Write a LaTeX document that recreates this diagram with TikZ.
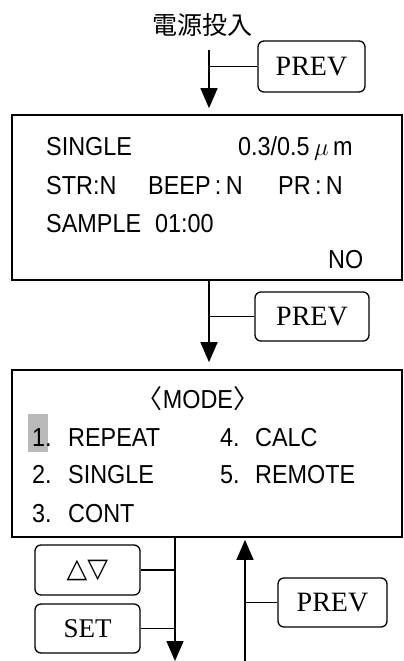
\documentclass[tikz,border=0pt]{standalone}
\usepackage{fontspec}
\usetikzlibrary{arrows.meta}
\newfontfamily\dispfont[FakeStretch=0.9]{Liberation Sans}
\newfontfamily\keyfont{Liberation Serif}
\newfontfamily\cjk{Noto Sans CJK JP}
\newfontfamily\symfont{DejaVu Sans}
\begin{document}
\begin{tikzpicture}[x=1pt,y=-1pt,
  key/.style={draw, line width=1.3pt, rounded corners=6pt, inner sep=0pt,
    font=\keyfont\fontsize{28}{28}\selectfont},
  screen/.style={draw, line width=1.7pt, inner sep=0pt},
  disp/.style={font=\dispfont\fontsize{26}{26}\selectfont, anchor=base west, inner sep=0pt},
  conn/.style={line width=1.5pt},
  arr/.style={conn, -{Triangle[length=20pt,width=17pt]}}]
\useasboundingbox (0,0) rectangle (404,661);
\fill[white] (0,0) rectangle (404,661);

% power on label
\node[font=\cjk\fontsize{25}{25}\selectfont, inner sep=0pt] (pwr) at (202,25) {電源投入};

% screens
\node[screen, minimum width=390pt, minimum height=165pt] (scr1) at (207,197.5) {};
\node[screen, minimum width=390pt, minimum height=167pt] (scr2) at (207,453.5) {};

% keys
\node[key, minimum width=107pt, minimum height=51pt] (prev1) at (311.5,66.5) {PREV};
\node[key, minimum width=114pt, minimum height=49pt] (prev2) at (312,316.5) {PREV};
\node[key, minimum width=105pt, minimum height=50pt, font=\symfont\fontsize{27}{27}\selectfont] (updn) at (87.5,570) {△▽};
\node[key, minimum width=105pt, minimum height=49pt, font=\keyfont\fontsize{27}{27}\selectfont] (setk) at (87.5,628.5) {SET};
\node[key, minimum width=109pt, minimum height=49pt] (prev3) at (332.5,602.5) {PREV};

% screen 1 text
\node[disp] (s1a) at (46,155) {SINGLE};
\node[disp] (s1b) at (238,155) {0.3/0.5\,$\mu$\,m};
\node[disp] (s1c) at (46,194) {STR:N};
\node[disp] (s1d) at (148,194) {BEEP\,:\,N};
\node[disp] (s1e) at (278,194) {PR\,:\,N};
\node[disp] (s1f) at (46,232) {SAMPLE};
\node[disp] (s1g) at (155,232) {01:00};
\node[disp] (s1h) at (328,268) {NO};

% screen 2 text
\fill[gray!55] (28,414) rectangle (48,452);
\node[disp, anchor=base] (s2t) at (198,408) {{\cjk 〈}MODE{\cjk 〉}};
\node[disp] (n1) at (32,446) {1.};
\node[disp] (m1) at (68,446) {REPEAT};
\node[disp] (n4) at (220,446) {4.};
\node[disp] (m4) at (255,446) {CALC};
\node[disp] (n2) at (32,483) {2.};
\node[disp] (m2) at (68,483) {SINGLE};
\node[disp] (n5) at (220,483) {5.};
\node[disp] (m5) at (255,483) {REMOTE};
\node[disp] (n3) at (32,522) {3.};
\node[disp] (m3) at (68,522) {CONT};

% connectors
\coordinate (a1) at (209,50);
\coordinate (dn) at (175,661);
\coordinate (up) at (245,661);
\draw[arr, shorten >=6pt] (a1) -- (a1 |- scr1.north);
\draw[conn] (prev1.west) -- (prev1.west -| a1);
\draw[arr, shorten >=7pt] (scr1.south -| a1) -- (scr2.north -| a1);
\draw[conn] (prev2.west) -- (prev2.west -| a1);
\draw[arr] (scr2.south -| dn) -- (dn);
\draw[conn] (updn.east) -- (updn.east -| dn);
\draw[conn] (setk.east) -- (setk.east -| dn);
\draw[arr, shorten >=2pt] (up) -- (up |- scr2.south);
\draw[conn] (prev3.west) -- (prev3.west -| up);
\end{tikzpicture}
\end{document}
